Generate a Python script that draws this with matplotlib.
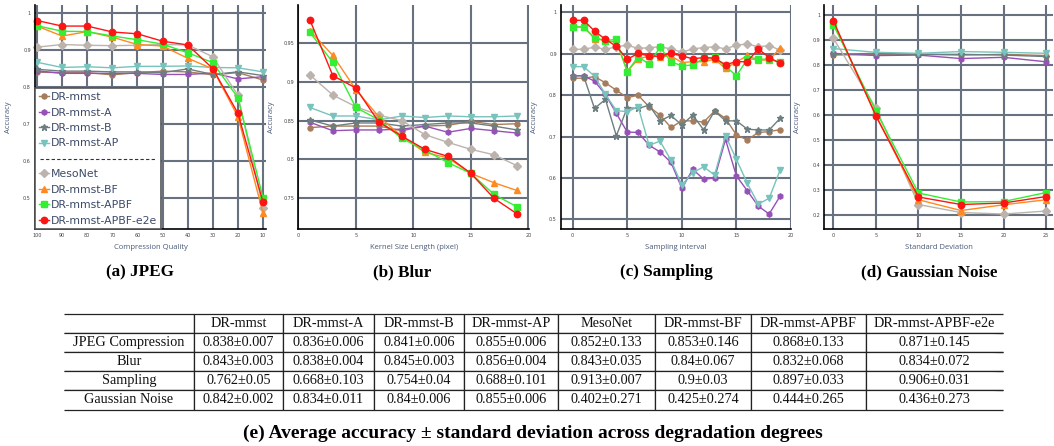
import matplotlib
matplotlib.use("Agg")
import matplotlib.pyplot as plt
from matplotlib.lines import Line2D

# --- data ---
methods = ["DR-mmst", "DR-mmst-A", "DR-mmst-B", "DR-mmst-AP",
           "MesoNet", "DR-mmst-BF", "DR-mmst-APBF", "DR-mmst-APBF-e2e"]
colors = ["#a67d5c", "#9650b8", "#6d7e80", "#78c3bb",
          "#bcb3ad", "#ff8a1f", "#33ee33", "#ff1414"]
markers = ["o", "h", "*", "v", "D", "^", "s", "o"]
msizes = [3.6, 3.8, 5.0, 3.8, 3.6, 3.8, 4.6, 4.6]

jpeg_q = [100, 90, 80, 70, 60, 50, 40, 30, 20, 10]
jpeg_acc = [
    [0.840, 0.839, 0.839, 0.833, 0.839, 0.843, 0.841, 0.833, 0.839, 0.819],
    [0.844, 0.837, 0.837, 0.837, 0.837, 0.834, 0.834, 0.838, 0.822, 0.828],
    [0.848, 0.843, 0.843, 0.841, 0.841, 0.839, 0.849, 0.834, 0.841, 0.831],
    [0.867, 0.853, 0.855, 0.852, 0.856, 0.856, 0.857, 0.853, 0.852, 0.841],
    [0.908, 0.915, 0.913, 0.912, 0.913, 0.915, 0.914, 0.882, 0.778, 0.473],
    [0.965, 0.938, 0.950, 0.935, 0.915, 0.911, 0.878, 0.849, 0.720, 0.459],
    [0.966, 0.951, 0.950, 0.938, 0.928, 0.916, 0.893, 0.866, 0.771, 0.501],
    [0.980, 0.965, 0.965, 0.949, 0.944, 0.924, 0.914, 0.850, 0.729, 0.489],
]

blur_k = [1, 3, 5, 7, 9, 11, 13, 15, 17, 19]
blur_acc = [
    [0.841, 0.843, 0.843, 0.843, 0.837, 0.843, 0.844, 0.849, 0.845, 0.846],
    [0.848, 0.837, 0.838, 0.838, 0.839, 0.843, 0.835, 0.840, 0.837, 0.834],
    [0.851, 0.843, 0.847, 0.847, 0.843, 0.845, 0.847, 0.847, 0.843, 0.838],
    [0.867, 0.856, 0.856, 0.851, 0.856, 0.854, 0.856, 0.855, 0.855, 0.856],
    [0.909, 0.883, 0.868, 0.857, 0.850, 0.832, 0.822, 0.813, 0.806, 0.792],
    [0.966, 0.934, 0.890, 0.855, 0.830, 0.809, 0.802, 0.782, 0.770, 0.760],
    [0.964, 0.925, 0.867, 0.851, 0.827, 0.812, 0.796, 0.782, 0.755, 0.739],
    [0.980, 0.908, 0.892, 0.848, 0.830, 0.813, 0.804, 0.782, 0.750, 0.730],
]

samp_i = list(range(20))
samp_acc = [
    [0.841, 0.841, 0.845, 0.830, 0.812, 0.794, 0.800, 0.772, 0.752, 0.722,
     0.738, 0.738, 0.735, 0.762, 0.744, 0.704, 0.692, 0.710, 0.712, 0.717],
    [0.847, 0.847, 0.834, 0.802, 0.756, 0.711, 0.710, 0.679, 0.663, 0.638,
     0.575, 0.621, 0.597, 0.600, 0.693, 0.605, 0.569, 0.532, 0.513, 0.556],
    [0.847, 0.847, 0.768, 0.790, 0.702, 0.770, 0.768, 0.776, 0.738, 0.751,
     0.728, 0.752, 0.716, 0.762, 0.738, 0.738, 0.718, 0.716, 0.716, 0.744],
    [0.869, 0.869, 0.846, 0.802, 0.763, 0.760, 0.772, 0.679, 0.689, 0.643,
     0.583, 0.613, 0.627, 0.607, 0.702, 0.645, 0.587, 0.537, 0.551, 0.619],
    [0.911, 0.911, 0.916, 0.911, 0.917, 0.921, 0.913, 0.915, 0.917, 0.912,
     0.904, 0.912, 0.915, 0.917, 0.912, 0.921, 0.924, 0.917, 0.920, 0.909],
    [0.965, 0.965, 0.937, 0.932, 0.928, 0.858, 0.887, 0.895, 0.893, 0.895,
     0.879, 0.881, 0.881, 0.887, 0.865, 0.880, 0.896, 0.885, 0.885, 0.914],
    [0.965, 0.965, 0.939, 0.932, 0.935, 0.857, 0.893, 0.875, 0.916, 0.881,
     0.871, 0.873, 0.889, 0.892, 0.870, 0.847, 0.887, 0.887, 0.887, 0.880],
    [0.981, 0.981, 0.955, 0.935, 0.918, 0.887, 0.901, 0.895, 0.894, 0.901,
     0.895, 0.888, 0.891, 0.889, 0.874, 0.881, 0.881, 0.912, 0.891, 0.877],
]

noise_sd = [0, 5, 10, 15, 20, 25]
noise_acc = [
    [0.840, 0.843, 0.843, 0.840, 0.843, 0.838],
    [0.847, 0.838, 0.840, 0.826, 0.831, 0.813],
    [0.843, 0.847, 0.843, 0.843, 0.840, 0.834],
    [0.866, 0.851, 0.847, 0.854, 0.851, 0.847],
    [0.907, 0.628, 0.243, 0.211, 0.205, 0.217],
    [0.970, 0.600, 0.262, 0.219, 0.242, 0.262],
    [0.961, 0.617, 0.289, 0.253, 0.255, 0.291],
    [0.977, 0.597, 0.273, 0.243, 0.249, 0.275],
]

row_names = ["JPEG Compression", "Blur", "Sampling", "Gaussian Noise"]
tab_mean = [
    [0.838, 0.836, 0.841, 0.855, 0.852, 0.853, 0.868, 0.871],
    [0.843, 0.838, 0.845, 0.856, 0.843, 0.84, 0.832, 0.834],
    [0.762, 0.668, 0.754, 0.688, 0.913, 0.9, 0.897, 0.906],
    [0.842, 0.834, 0.84, 0.855, 0.402, 0.425, 0.444, 0.436],
]
tab_std = [
    [0.007, 0.006, 0.006, 0.006, 0.133, 0.146, 0.133, 0.145],
    [0.003, 0.004, 0.003, 0.004, 0.035, 0.067, 0.068, 0.072],
    [0.05, 0.103, 0.04, 0.101, 0.007, 0.03, 0.033, 0.031],
    [0.002, 0.011, 0.006, 0.006, 0.271, 0.274, 0.265, 0.273],
]

W, H = 1054, 446
fig = plt.figure(figsize=(W / 100, H / 100), dpi=100)


def px_axes(l, t, r, b):
    return fig.add_axes([l / W, 1 - b / H, (r - l) / W, (b - t) / H])


grid_c = "#67717f"
panels = [
    # box(px), x, y, xlim, ylim, xticks, yticks, xlabel, title, title x(px)
    ((35, 5, 266, 229.3), jpeg_q, jpeg_acc, (100.8, 8.8), (0.415, 1.022),
     jpeg_q, [0.5, 0.6, 0.7, 0.8, 0.9, 1.0], "Compression Quality", "(a) JPEG", 140),
    ((298.3, 5, 529, 229.3), blur_k, blur_acc, (0, 20.05), (0.710, 0.999),
     [0, 5, 10, 15, 20], [0.75, 0.8, 0.85, 0.9, 0.95], "Kernel Size Length (pixel)", "(b) Blur", 402),
    ((561, 5, 791, 229.3), samp_i, samp_acc, (-1.07, 20.0), (0.476, 1.018),
     [0, 5, 10, 15, 20], [0.5, 0.6, 0.7, 0.8, 0.9, 1.0], "Sampling interval", "(c) Sampling", 666),
    ((824.3, 5, 1053, 229.3), noise_sd, noise_acc, (-1.06, 25.8), (0.144, 1.040),
     [0, 5, 10, 15, 20, 25], [0.2, 0.3, 0.4, 0.5, 0.6, 0.7, 0.8, 0.9, 1.0],
     "Standard Deviation", "(d) Gaussian Noise", 929),
]

axes = []
for box, xs, ys, xl, yl, xt, yt, xlab, title, tx in panels:
    ax = px_axes(*box)
    axes.append(ax)
    for k, m in enumerate(methods):
        ax.plot(xs, ys[k], color=colors[k], marker=markers[k], markersize=msizes[k],
                linewidth=1.0, label=m, clip_on=False)
    ax.set_xlim(*xl)
    ax.set_ylim(*yl)
    ax.set_xticks(xt)
    ax.set_yticks(yt)
    ax.set_xticklabels(["%g" % v for v in xt])
    ax.set_yticklabels(["%g" % v for v in yt])
    ax.tick_params(length=0, labelsize=3.5, labelcolor="#444444", pad=3)
    ax.grid(True, color=grid_c, linewidth=1.5)
    ax.set_axisbelow(True)
    for s in ["top", "right"]:
        ax.spines[s].set_visible(False)
    for s in ["left", "bottom"]:
        ax.spines[s].set_color("black")
        ax.spines[s].set_linewidth(1.2)
    ax.set_xlabel(xlab, fontsize=5.5, color="#4a5a78", family="Open Sans", labelpad=4)
    ax.set_ylabel("Accuracy", fontsize=5.5, color="#4a5a78", family="Open Sans")
    ax.yaxis.set_label_coords(-0.1, 0.5)
    fig.text(tx / W, 1 - 272 / H, title, ha="center", va="center",
             family="Liberation Serif", fontweight="bold", fontsize=12.3)

# legend in panel (a) with a dashed separator row
ax = axes[0]
h, l = ax.get_legend_handles_labels()
blank = Line2D([], [], linestyle="none")
handles = h[:4] + [blank] + h[4:]
labels = l[:4] + [" "] + l[4:]
leg = ax.legend(handles, labels, loc="lower left", bbox_to_anchor=(0, 0),
                borderaxespad=0, fontsize=7.8, handlelength=0.9, handletextpad=0.25,
                labelspacing=0.5, borderpad=0.35, fancybox=False, framealpha=1,
                edgecolor="#555555")
leg.get_frame().set_linewidth(1.2)
for t in leg.get_texts():
    t.set_color("#3c4a68")

fig.canvas.draw()
inv = fig.transFigure.inverted()
tx3 = leg.get_texts()[3].get_window_extent()
tx5 = leg.get_texts()[5].get_window_extent()
fr = leg.get_frame().get_window_extent()
ymid = (tx3.y0 + tx3.y1 + tx5.y0 + tx5.y1) / 4
p0 = inv.transform((fr.x0 + 5, ymid))
p1 = inv.transform((fr.x1 - 5, ymid))
fig.add_artist(Line2D([p0[0], p1[0]], [p0[1], p1[1]], transform=fig.transFigure,
                      color="#333333", linewidth=0.8, linestyle=(0, (3, 2)), zorder=10))

# table (e)
col_px = [64, 194, 283, 374, 464, 558, 655, 751, 866, 1003]
tab_ax = px_axes(64, 314.3, 1003, 409.5)
tab_ax.axis("off")
cells = [[""] + methods]
for r, name in enumerate(row_names):
    cells.append([name] + ["%g\u00b1%g" % (tab_mean[r][c], tab_std[r][c])
                           for c in range(len(methods))])
widths = [(col_px[i + 1] - col_px[i]) / (col_px[-1] - col_px[0]) for i in range(len(col_px) - 1)]
tab = tab_ax.table(cellText=cells, colWidths=widths, cellLoc="center", bbox=[0, 0, 1, 1])
tab.auto_set_font_size(False)
ncol = len(widths)
for (r, c), cell in tab.get_celld().items():
    edges = "TB"
    if c > 0:
        edges += "L"
    if c < ncol - 1:
        edges += "R"
    cell.visible_edges = edges
    cell.set_linewidth(0.9)
    cell.set_edgecolor("#222222")
    cell.get_text().set_fontsize(10.3)
    cell.get_text().set_family("Liberation Serif")
    cell.get_text().set_color("#111111")

fig.text(533 / W, 1 - 433 / H,
         "(e) Average accuracy \u00b1 standard deviation across degradation degrees",
         ha="center", va="center", family="Liberation Serif", fontweight="bold", fontsize=14)

fig.savefig("out.png", dpi=100)
